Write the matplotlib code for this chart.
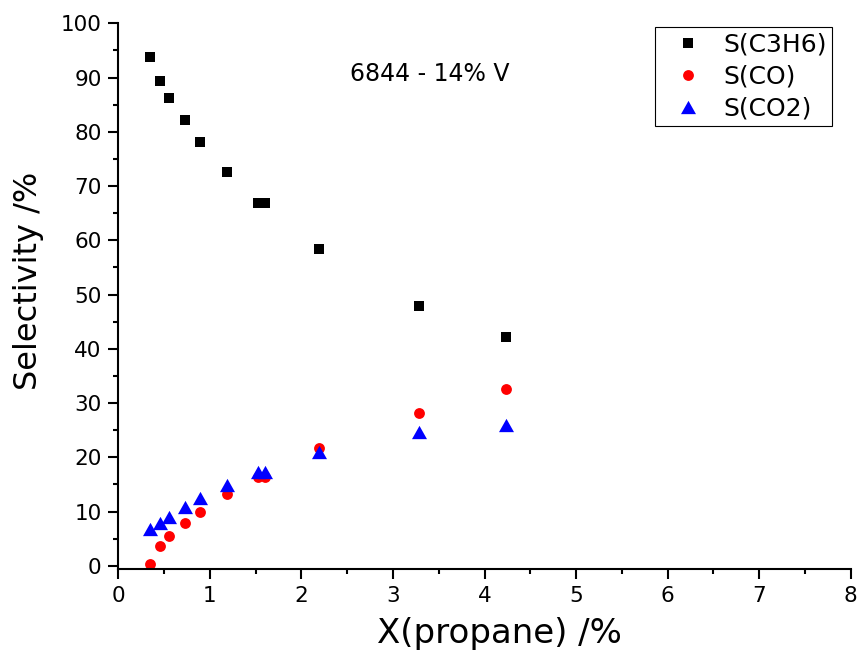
import matplotlib
matplotlib.use("Agg")
import matplotlib.pyplot as plt
from matplotlib.path import Path
from matplotlib.ticker import MultipleLocator

# Propane conversion (%) and product selectivities (%)
conversion = [0.35, 0.455, 0.557, 0.725, 0.896, 1.19, 1.53, 1.60, 2.19, 3.28, 4.23]
sel_c3h6 = [93.8, 89.3, 86.3, 82.2, 78.2, 72.5, 66.9, 66.9, 58.3, 47.8, 42.2]
sel_co = [0.4, 3.6, 5.4, 7.8, 10.0, 13.3, 16.3, 16.3, 21.7, 28.2, 32.5]
sel_co2 = [6.7, 7.8, 9.0, 10.9, 12.5, 14.9, 17.3, 17.3, 20.9, 24.7, 26.0]

series_labels = ["S(C3H6)", "S(CO)", "S(CO2)"]
annotation = "6844 - 14% V"
x_label = "X(propane) /%"
y_label = "Selectivity /%"

plt.rcParams["font.family"] = ["DejaVu Sans"]

W, H = 858, 656
fig = plt.figure(figsize=(W / 100, H / 100), dpi=100)
ax = fig.add_axes([118.3 / W, 1 - 569 / H, (850.7 - 118.3) / W, (569 - 23.3) / H])

# slightly flattened up-triangle
h = 0.887
tri = Path([(0, h), (-1, -h), (1, -h), (0, h)],
           [Path.MOVETO, Path.LINETO, Path.LINETO, Path.CLOSEPOLY])

ax.plot(conversion, sel_c3h6, ls="none", marker="s", ms=6.8, mfc="black",
        mec="black", mew=0, label=series_labels[0], clip_on=False)
ax.plot(conversion, sel_co, ls="none", marker="o", ms=7.8, mfc="#ff0000",
        mec="#ff0000", mew=0, label=series_labels[1], clip_on=False)
ax.plot(conversion, sel_co2, ls="none", marker=tri, ms=10.8, mfc="#0000ff",
        mec="#0000ff", mew=0, label=series_labels[2], clip_on=False)

ax.set_xlim(0, 8)
ax.set_ylim(-0.6, 100)
ax.xaxis.set_major_locator(MultipleLocator(1))
ax.xaxis.set_minor_locator(MultipleLocator(0.5))
ax.yaxis.set_major_locator(MultipleLocator(10))
ax.yaxis.set_minor_locator(MultipleLocator(5))

for s in ("top", "right"):
    ax.spines[s].set_visible(False)
for s in ("left", "bottom"):
    ax.spines[s].set_linewidth(1.5)

ax.tick_params(which="major", direction="out", length=7, width=1.5,
               labelsize=15.5, colors="black")
ax.tick_params(which="minor", direction="out", length=3.8, width=1.5)
ax.tick_params(axis="x", which="major", pad=5)
ax.tick_params(axis="y", which="major", pad=5)

ax.set_xlabel(x_label, fontsize=24.5)
ax.set_ylabel(y_label, fontsize=23)
ax.xaxis.set_label_coords(0.521, -0.088)
ax.yaxis.set_label_coords(-0.1015, 0.528)

ax.text(2.53, 90.6, annotation, fontsize=17, ha="left", va="center")

leg = ax.legend(loc="upper right", bbox_to_anchor=(832.3 / W, 1 - 27.3 / H),
                bbox_transform=fig.transFigure, borderaxespad=0,
                fontsize=18, frameon=True, fancybox=False, framealpha=1,
                edgecolor="black", borderpad=0.22, handlelength=2.2,
                handletextpad=0.32, labelspacing=0.32, numpoints=1)
leg.get_frame().set_linewidth(0.8)

fig.savefig("out.png", dpi=100)
